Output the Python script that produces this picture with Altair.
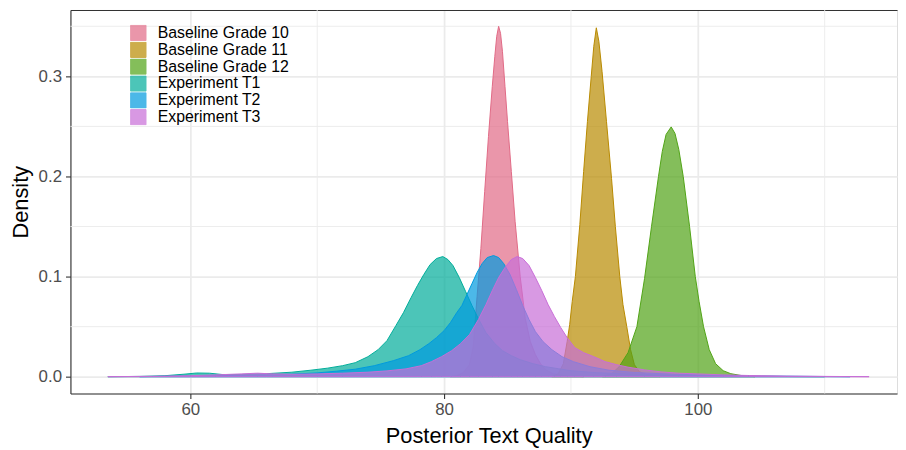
import altair as alt
import pandas as pd

groups = ["Baseline Grade 10", "Baseline Grade 11", "Baseline Grade 12",
          "Experiment T1", "Experiment T2", "Experiment T3"]
colors = ["#E16A86", "#B88A00", "#50A315", "#00AD9A", "#009ADE", "#C86DD7"]

g10_x = [80.5, 81.0, 81.5, 82.0, 82.3, 82.6, 82.9, 83.2, 83.5, 83.8, 84.0, 84.15, 84.3,
         84.45, 84.6, 84.8, 85.0, 85.3, 85.6, 86.0, 86.4, 86.8, 87.2, 87.6, 88.0, 88.6, 89.5, 91.0]
g10_y = [0.0, 0.001, 0.004, 0.012, 0.03, 0.08, 0.128, 0.185, 0.24, 0.29, 0.32, 0.34, 0.350,
         0.343, 0.325, 0.29, 0.255, 0.205, 0.155, 0.10, 0.058, 0.035, 0.022, 0.013, 0.007, 0.003, 0.001, 0.0]

g11_x = [88.5, 89.0, 89.4, 89.7, 89.9, 90.1, 90.35, 90.7, 91.0, 91.3, 91.6, 91.8, 92.0,
         92.2, 92.45, 92.8, 93.2, 93.5, 93.85, 94.1, 94.4, 94.7, 95.0, 95.4, 96.0, 97.0]
g11_y = [0.0, 0.003, 0.013, 0.035, 0.052, 0.075, 0.10, 0.152, 0.205, 0.255, 0.30, 0.33, 0.3485,
         0.335, 0.305, 0.255, 0.198, 0.15, 0.10, 0.072, 0.05, 0.027, 0.012, 0.005, 0.002, 0.0]

g12_x = [92.5, 93.2, 93.8, 94.5, 95.2, 95.8, 96.35, 96.9, 97.2, 97.5, 97.9, 98.2, 98.5,
         98.85, 99.35, 99.8, 100.1, 100.45, 100.9, 101.4, 102.0, 102.6, 103.5, 104.5]
g12_y = [0.0, 0.003, 0.01, 0.024, 0.05, 0.098, 0.15, 0.20, 0.225, 0.242, 0.2495, 0.243, 0.227,
         0.20, 0.15, 0.10, 0.075, 0.05, 0.027, 0.013, 0.006, 0.003, 0.001, 0.0]

t1_x = [53.5, 56.0, 58.0, 59.5, 60.5, 61.5, 62.5, 64.0, 66.0, 68.0, 69.5, 70.8, 72.0, 73.0,
        74.0, 74.8, 75.5, 76.2, 76.8, 77.4, 77.9, 78.4, 78.9, 79.4, 79.9, 80.3, 80.7, 81.2,
        81.7, 82.2, 82.7, 83.3, 84.0, 84.6, 85.3, 86.0, 87.0, 88.0, 89.0, 90.0, 92.0, 94.0,
        97.0, 100.0, 104.0, 108.0, 110.0]
t1_y = [0.0, 0.0003, 0.001, 0.0025, 0.0037, 0.0035, 0.0022, 0.0022, 0.003, 0.0045, 0.0065,
        0.0085, 0.011, 0.014, 0.02, 0.027, 0.036, 0.051, 0.064, 0.079, 0.091, 0.102, 0.112,
        0.118, 0.120, 0.117, 0.111, 0.099, 0.085, 0.071, 0.058, 0.044, 0.033, 0.026, 0.021,
        0.017, 0.013, 0.01, 0.008, 0.006, 0.004, 0.003, 0.0017, 0.001, 0.0004, 0.0001, 0.0]

t2_x = [56.0, 60.0, 63.0, 66.0, 68.0, 70.0, 71.5, 73.0, 74.5, 76.0, 77.2, 78.1, 78.8, 79.4,
        80.0, 80.5, 81.0, 81.4, 81.8, 82.2, 82.6, 83.0, 83.4, 83.9, 84.3, 84.7, 85.2, 85.7,
        86.2, 86.7, 87.2, 87.8, 88.5, 89.3, 90.2, 91.5, 93.0, 95.0, 98.0, 101.0, 105.0, 109.0, 112.0]
t2_y = [0.0, 0.0008, 0.0012, 0.0018, 0.0025, 0.0038, 0.0055, 0.0075, 0.011, 0.016, 0.021,
        0.027, 0.033, 0.039, 0.046, 0.054, 0.064, 0.071, 0.082, 0.093, 0.104, 0.113, 0.119,
        0.121, 0.119, 0.113, 0.102, 0.087, 0.071, 0.057, 0.045, 0.035, 0.027, 0.02, 0.015,
        0.01, 0.0065, 0.0042, 0.0025, 0.0015, 0.0007, 0.0003, 0.0]

t3_x = [53.5, 57.0, 60.0, 62.0, 64.0, 65.3, 66.5, 68.0, 70.0, 72.0, 74.0, 75.5, 77.0, 78.2,
        79.0, 79.8, 80.6, 81.3, 82.0, 82.7, 83.3, 83.8, 84.3, 84.8, 85.3, 85.76, 86.2, 86.7,
        87.2, 87.7, 88.2, 88.7, 89.2, 89.7, 90.3, 91.0, 91.8, 92.7, 93.6, 94.5, 95.8, 97.1,
        98.5, 100.0, 102.0, 104.0, 107.0, 110.0, 113.5]
t3_y = [0.0, 0.0004, 0.001, 0.0018, 0.0028, 0.0035, 0.0028, 0.0024, 0.0028, 0.0035, 0.0045,
        0.0058, 0.0078, 0.011, 0.015, 0.02, 0.026, 0.033, 0.042, 0.057, 0.072, 0.086, 0.099,
        0.109, 0.117, 0.120, 0.118, 0.111, 0.099, 0.086, 0.072, 0.06, 0.049, 0.039, 0.029,
        0.024, 0.02, 0.015, 0.012, 0.0095, 0.0068, 0.0048, 0.0035, 0.0028, 0.0018, 0.0012,
        0.0006, 0.0003, 0.0]

x_major = [60, 80, 100]
x_minor = [70, 90, 110]
y_major = [0.0, 0.1, 0.2, 0.3]
y_minor = [0.05, 0.15, 0.25, 0.35]

series = [(groups[0], g10_x, g10_y), (groups[1], g11_x, g11_y), (groups[2], g12_x, g12_y),
          (groups[3], t1_x, t1_y), (groups[4], t2_x, t2_y), (groups[5], t3_x, t3_y)]
rows = []
for name, xs, ys in series:
    for xv, yv in zip(xs, ys):
        rows.append({"group": name, "quality": xv, "density": yv})
df = pd.DataFrame(rows)

X_DOM = [50.55, 115.7]
Y_DOM = [-0.0168, 0.3663]
FONT = "Liberation Sans"
GRID = "#EBEBEB"
DARK = "#333333"

xscale = alt.Scale(domain=X_DOM, nice=False, zero=False)
yscale = alt.Scale(domain=Y_DOM, nice=False, zero=False)

minor_x = alt.Chart(pd.DataFrame({"v": x_minor})).mark_rule(
    color=GRID, strokeWidth=0.9
).encode(
    x=alt.X("v:Q", scale=xscale,
            axis=alt.Axis(orient="top", labels=False, ticks=False, grid=False,
                          domain=True, domainColor=DARK, domainWidth=1.1, title=None))
)

minor_y = alt.Chart(pd.DataFrame({"v": y_minor})).mark_rule(
    color=GRID, strokeWidth=0.9
).encode(
    y=alt.Y("v:Q", scale=yscale, axis=None)
)

areas = alt.Chart(df).mark_area(
    fillOpacity=0.7, strokeWidth=1, strokeOpacity=1, orient="vertical"
).encode(
    x=alt.X("quality:Q", scale=xscale,
            axis=alt.Axis(values=x_major, title="Posterior Text Quality", grid=True,
                          gridColor=GRID, gridWidth=1.8, domain=True, domainColor=DARK,
                          domainWidth=1.1, tickColor=DARK, tickSize=5, tickWidth=1.1,
                          labelFontSize=17, labelColor="#4D4D4D", labelPadding=3,
                          labelFont=FONT, titleFont=FONT, titleFontSize=22,
                          titleFontWeight="normal", titleColor="#000000",
                          titleX=422, titleY=49, titleBaseline="alphabetic",
                          titleAlign="center")),
    y=alt.Y("density:Q", scale=yscale, stack=None,
            axis=alt.Axis(values=y_major, format=".1f", title="Density", grid=True,
                          gridColor=GRID, gridWidth=1.8, domain=True, domainColor=DARK,
                          domainWidth=1.1, tickColor=DARK, tickSize=5, tickWidth=1.1,
                          labelFontSize=17, labelColor="#4D4D4D", labelPadding=4,
                          labelFont=FONT, titleFont=FONT, titleFontSize=22,
                          titleFontWeight="normal", titleColor="#000000",
                          titleX=-43, titleY=193.5, titleAngle=270,
                          titleBaseline="alphabetic", titleAlign="center")),
    fill=alt.Fill("group:N", title=None, scale=alt.Scale(domain=groups, range=colors),
                  legend=alt.Legend(orient="none", legendX=60, legendY=15, padding=0,
                                    symbolType="square", symbolSize=240,
                                    symbolOpacity=0.7, symbolStrokeWidth=1,
                                    labelFontSize=16, labelFont=FONT, labelColor="#000000",
                                    labelOffset=11, rowPadding=-1.6, clipHeight=16.4,
                                    labelLimit=300)),
    stroke=alt.Stroke("group:N", title=None, scale=alt.Scale(domain=groups, range=colors)),
)

chart = alt.layer(minor_x, minor_y, areas).resolve_axis(
    x="independent", y="independent"
).properties(
    width=834, height=387,
    padding={"left": 63, "top": 0, "right": 1, "bottom": 54},
    autosize=alt.AutoSizeParams(type="none"),
).configure_view(stroke=None).configure(background="white")

chart.save("out.html", embed_options={"renderer": "svg", "actions": False})
